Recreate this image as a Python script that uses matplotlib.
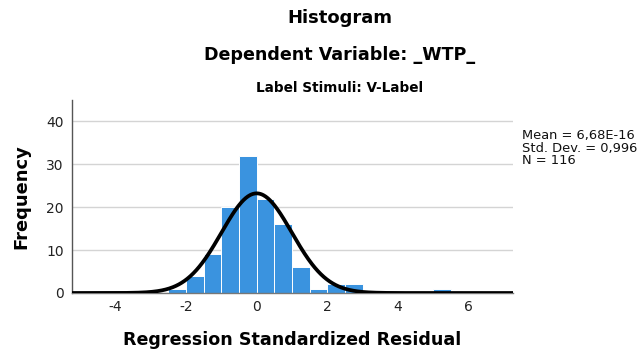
import numpy as np
import matplotlib
matplotlib.use("Agg")
import matplotlib.pyplot as plt

# Histogram of regression standardized residuals (bin width 0.5)
bin_edges_left = [-2.5, -2.0, -1.5, -1.0, -0.5, 0.0, 0.5, 1.0, 1.5, 2.0, 2.5, 5.0]
bin_counts = [1, 4, 9, 20, 32, 22, 16, 6, 1, 2, 2, 1]
bin_width = 0.5

mean_val = 6.68e-16
std_dev = 0.996
n_obs = 116

x_ticks = [-4, -2, 0, 2, 4, 6]
y_ticks = [0, 10, 20, 30, 40]

plt.rcParams['font.family'] = ['DejaVu Sans']
plt.rcParams['axes.unicode_minus'] = False

fig = plt.figure(figsize=(6.41, 3.6), dpi=100)
ax = fig.add_axes([72 / 641, 1 - 293 / 360, (513 - 72) / 641, (293 - 100) / 360])

ax.bar(bin_edges_left, bin_counts, width=bin_width, align='edge',
       color='#3A93DF', edgecolor='white', linewidth=0.7, zorder=2)

# Normal curve scaled to the histogram
xmin, xmax = -5.23, 7.26
xs = np.linspace(xmin, xmax, 600)
curve = n_obs * bin_width * np.exp(-0.5 * ((xs - mean_val) / std_dev) ** 2) / (std_dev * np.sqrt(2 * np.pi))
ax.plot(xs, curve, color='black', linewidth=2.7, zorder=3, solid_capstyle='butt')

ax.set_xlim(xmin, xmax)
ax.set_ylim(0, 45)
ax.set_xticks(x_ticks)
ax.set_xticklabels([str(t) for t in x_ticks])
ax.set_yticks(y_ticks)
ax.tick_params(axis='both', length=0, labelsize=10, colors='#222222')
ax.tick_params(axis='y', pad=6)
ax.tick_params(axis='x', pad=5)

ax.yaxis.grid(True, color='#d4d4d4', linewidth=1.0, zorder=0)
ax.set_axisbelow(True)
for side in ['top', 'right']:
    ax.spines[side].set_visible(False)
ax.spines['left'].set_color('#555555')
ax.spines['left'].set_linewidth(1.0)
ax.spines['bottom'].set_color('#777777')
ax.spines['bottom'].set_linewidth(1.0)

ax.set_xlabel('Regression Standardized Residual', fontsize=12.6, fontweight='bold', labelpad=12)
ax.set_ylabel('Frequency', fontsize=12.9, fontweight='bold', labelpad=11)

fig.text(340 / 641, 1 - 18 / 360, 'Histogram', ha='center', va='center', fontsize=13, fontweight='bold')
fig.text(340 / 641, 1 - 55 / 360, 'Dependent Variable: _WTP_', ha='center', va='center', fontsize=12.6, fontweight='bold')
fig.text(340 / 641, 1 - 88 / 360, 'Label Stimuli: V-Label', ha='center', va='center', fontsize=9.8, fontweight='bold')

stats_text = "Mean = 6,68E-16\nStd. Dev. = 0,996\nN = " + str(n_obs)
fig.text(522 / 641, 1 - 129 / 360, stats_text, ha='left', va='top', fontsize=9.4,
         linespacing=0.95, color='#111111')

fig.savefig('out.png', dpi=100, facecolor='white')
